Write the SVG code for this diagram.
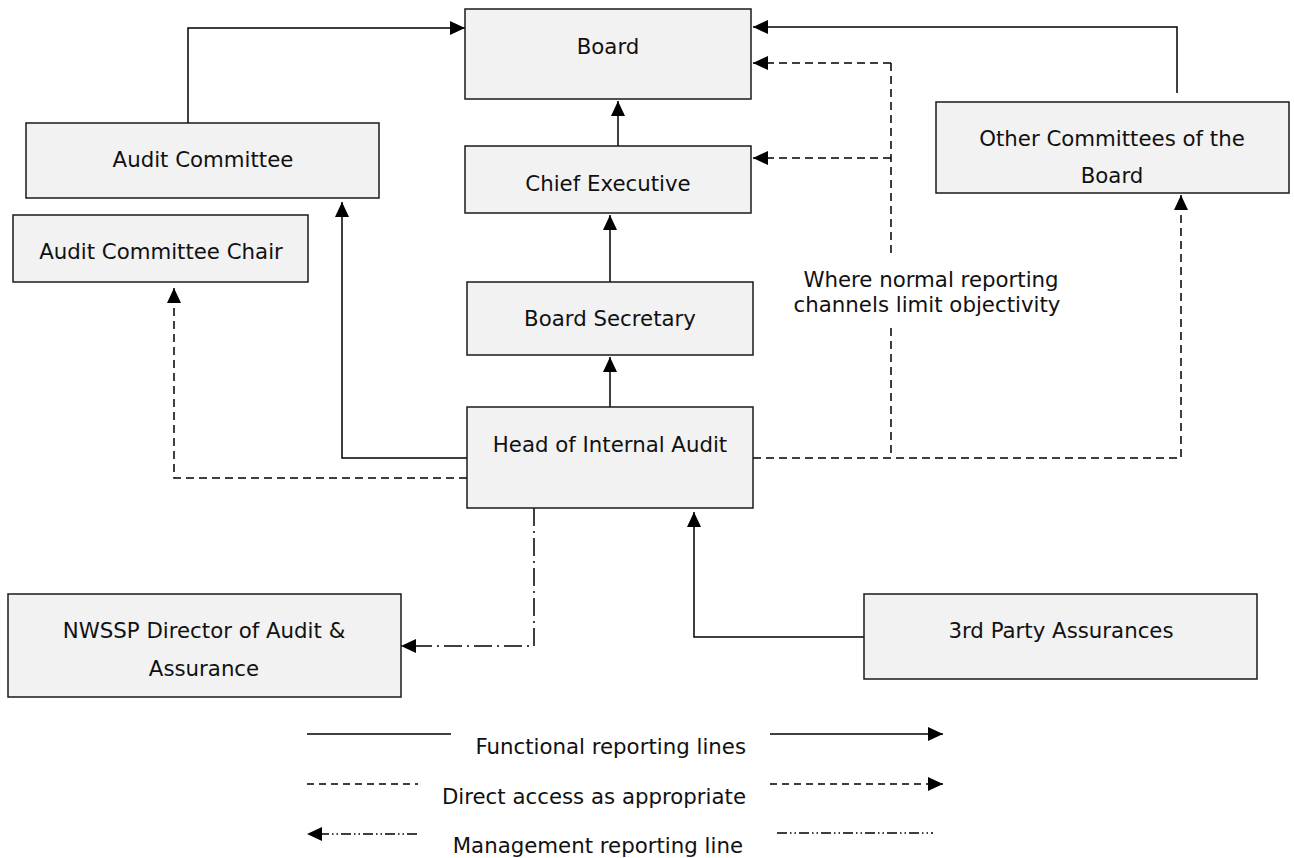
<svg xmlns="http://www.w3.org/2000/svg" width="1294" height="858" viewBox="0 0 1294 858">
<style>
.box{fill:#f2f2f2;stroke:#1a1a1a;stroke-width:1.5}
.t{font-family:"DejaVu Sans",Verdana,sans-serif;font-size:21.3px;fill:#111;text-anchor:middle}
.s{fill:none;stroke:#000;stroke-width:1.5}
.d{fill:none;stroke:#000;stroke-width:1.5;stroke-dasharray:8 5}
.ld{fill:none;stroke:#000;stroke-width:1.5;stroke-dasharray:7 5}
.dd{fill:none;stroke:#000;stroke-width:1.5;stroke-dasharray:18 5 2 5}
.ldd{fill:none;stroke:#000;stroke-width:1.5;stroke-dasharray:10 3 1.5 3 1.5 3}
</style>
<defs>
<marker id="ah" viewBox="0 0 15 14" refX="15" refY="7" markerWidth="15" markerHeight="14" markerUnits="userSpaceOnUse" orient="auto">
<path d="M0,0 L15,7 L0,14 Z" fill="#000"/>
</marker>
<clipPath id="wclip"><rect x="780" y="260" width="300" height="62"/></clipPath>
</defs>
<rect width="1294" height="858" fill="#fff"/>

<g id="connectors">
<polyline class="s" points="188,123 188,28 465,28" marker-end="url(#ah)"/>
<polyline class="s" points="1177,93 1177,27 753,27" marker-end="url(#ah)"/>
<line class="s" x1="618" y1="146" x2="618" y2="101" marker-end="url(#ah)"/>
<line class="s" x1="610" y1="282" x2="610" y2="215" marker-end="url(#ah)"/>
<line class="s" x1="610" y1="407" x2="610" y2="357" marker-end="url(#ah)"/>
<polyline class="s" points="467,458 342,458 342,202" marker-end="url(#ah)"/>
<polyline class="d" points="467,478 174,478 174,288" marker-end="url(#ah)"/>
<polyline class="d" points="891,63 753,63" marker-end="url(#ah)"/>
<polyline class="d" points="891,158 753,158" marker-end="url(#ah)"/>
<line class="d" x1="891" y1="63" x2="891" y2="253"/>
<line class="d" x1="891" y1="328" x2="891" y2="458"/>
<polyline class="d" points="753,458 1181,458 1181,195" marker-end="url(#ah)"/>
<polyline class="s" points="864,637 694,637 694,512" marker-end="url(#ah)"/>
<polyline class="dd" points="534,508 534,646 401,646" marker-end="url(#ah)"/>
</g>

<g id="where-label">
<g clip-path="url(#wclip)">
<text class="t" x="931" y="287">Where normal reporting</text>
<text class="t" x="927" y="312">channels limit objectivity</text>
</g>
</g>

<g id="board"><rect class="box" x="465" y="9" width="286" height="90"/><text class="t" x="608" y="54">Board</text></g>
<g id="audit-committee"><rect class="box" x="26" y="123" width="353" height="75"/><text class="t" x="203" y="167">Audit Committee</text></g>
<g id="audit-committee-chair"><rect class="box" x="13" y="215" width="295" height="67"/><text class="t" x="161" y="259">Audit Committee Chair</text></g>
<g id="chief-executive"><rect class="box" x="465" y="146" width="286" height="67"/><text class="t" x="608" y="191">Chief Executive</text></g>
<g id="other-committees"><rect class="box" x="936" y="102" width="353" height="91"/><text class="t" x="1112" y="146">Other Committees of the</text><text class="t" x="1112" y="183">Board</text></g>
<g id="board-secretary"><rect class="box" x="467" y="282" width="286" height="73"/><text class="t" x="610" y="326">Board Secretary</text></g>
<g id="head-internal-audit"><rect class="box" x="467" y="407" width="286" height="101"/><text class="t" x="610" y="452">Head of Internal Audit</text></g>
<g id="nwssp-director"><rect class="box" x="8" y="594" width="393" height="103"/><text class="t" x="204" y="638">NWSSP Director of Audit &amp;</text><text class="t" x="204" y="676">Assurance</text></g>
<g id="third-party"><rect class="box" x="864" y="594" width="393" height="85"/><text class="t" x="1061" y="638">3rd Party Assurances</text></g>

<g id="legend">
<line class="s" x1="307" y1="734" x2="451" y2="734"/>
<line class="s" x1="770" y1="734" x2="943" y2="734" marker-end="url(#ah)"/>
<text class="t" x="746" y="754" style="text-anchor:end">Functional reporting lines</text>
<line class="ld" x1="307" y1="784" x2="418" y2="784"/>
<line class="ld" x1="770" y1="784" x2="943" y2="784" marker-end="url(#ah)"/>
<text class="t" x="746" y="804" style="text-anchor:end">Direct access as appropriate</text>
<line class="ldd" x1="417" y1="834" x2="307" y2="834" marker-end="url(#ah)"/>
<line class="ldd" x1="777" y1="833" x2="933" y2="833"/>
<text class="t" x="743" y="853" style="text-anchor:end">Management reporting line</text>
</g>
</svg>
